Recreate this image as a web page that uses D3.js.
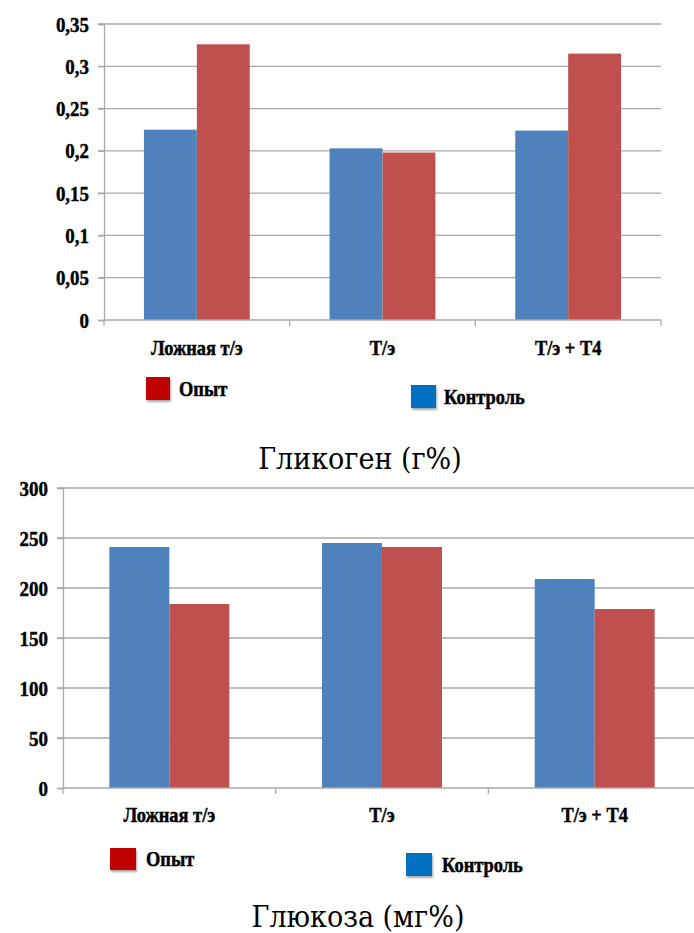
<!DOCTYPE html>
<html><head><meta charset="utf-8">
<script src="https://cdn.jsdelivr.net/npm/d3@7"></script>
<style>
html,body{margin:0;padding:0;background:#fff;}
svg{display:block;}
text.ttl{font-family:"DejaVu Serif Condensed","DejaVu Serif",serif;font-stretch:condensed;fill:#000;}
</style>
</head><body>
<svg id="c" width="694" height="933"></svg>
<script>
const categories = ["Ложная т/э", "Т/э", "Т/э + Т4"];
const seriesNames = ["Контроль", "Опыт"];
const glycogenControl = [0.225, 0.203, 0.224];
const glycogenExperiment = [0.326, 0.198, 0.315];
const glucoseControl = [241, 245, 209];
const glucoseExperiment = [184, 241, 179];
const glycogenTicks = [0, 0.05, 0.1, 0.15, 0.2, 0.25, 0.3, 0.35];
const glycogenTickLabels = ["0", "0,05", "0,1", "0,15", "0,2", "0,25", "0,3", "0,35"];
const glucoseTicks = [0, 50, 100, 150, 200, 250, 300];
const glucoseTickLabels = ["0", "50", "100", "150", "200", "250", "300"];
const legendLabels = ["Опыт", "Контроль"];
const titles = ["Гликоген (г%)", "Глюкоза (мг%)"];

const barColors = {"Контроль": "#4F81BD", "Опыт": "#C0504D"};
const legendColors = {"Опыт": "#C00000", "Контроль": "#0070C0"};
const LBL_FONT = "'Liberation Serif', 'Times New Roman', serif";

const svg = d3.select("#c");
svg.append("rect").attr("width", 694).attr("height", 933).attr("fill", "#fff");

const defs = svg.append("defs");
const f = defs.append("filter").attr("id", "sh").attr("x", "-30%").attr("y", "-30%").attr("width", "160%").attr("height", "160%");
f.append("feDropShadow").attr("dx", 1).attr("dy", 2).attr("stdDeviation", 1.2).attr("flood-color", "#000").attr("flood-opacity", 0.35);

function lbl(sel, size, k) {
  sel.style("font-family", LBL_FONT).style("font-weight", "700").style("font-size", size + "px")
    .style("fill", "#000").style("stroke", "#000").style("stroke-width", "0.45px");
  sel.each(function() {
    const w = this.getComputedTextLength();
    if (w > 0) d3.select(this).attr("textLength", w * k).attr("lengthAdjust", "spacingAndGlyphs");
  });
}

function drawChart(cfg) {
  const g = svg.append("g");
  const x = d3.scaleBand().domain(categories).range([cfg.x0, cfg.x1]).padding(0);
  const xs = d3.scaleBand().domain(seriesNames)
    .range([x.bandwidth() * cfg.gap, x.bandwidth() * (1 - cfg.gap)]).padding(0);
  const y = d3.scaleLinear().domain([0, cfg.max]).range([cfg.y0, cfg.yTop]);

  g.selectAll("line.grid").data(cfg.ticks.filter(t => t > 0)).join("line")
    .attr("x1", cfg.x0 - 6).attr("x2", cfg.x1)
    .attr("y1", d => y(d)).attr("y2", d => y(d))
    .attr("stroke", "#a9a9a9").attr("stroke-width", 1.3);

  const data = categories.map((c, i) => ({c, vals: [
    {s: "Контроль", v: cfg.control[i]}, {s: "Опыт", v: cfg.exp[i]}]}));
  const grp = g.selectAll("g.grp").data(data).join("g")
    .attr("transform", d => `translate(${x(d.c)},0)`);
  grp.selectAll("rect").data(d => d.vals).join("rect")
    .attr("x", d => xs(d.s)).attr("width", xs.bandwidth())
    .attr("y", d => y(d.v)).attr("height", d => y(0) - y(d.v))
    .attr("fill", d => barColors[d.s]);

  const yAxis = d3.axisLeft(y).tickValues(cfg.ticks).tickSize(6)
    .tickFormat((d, i) => cfg.tickLabels[i]).tickPadding(9);
  const ya = g.append("g").attr("transform", `translate(${cfg.x0},0)`).call(yAxis)
    .attr("font-family", null).attr("font-size", null);
  ya.select(".domain").attr("stroke", "#a9a9a9").attr("stroke-width", 1.3);
  ya.selectAll(".tick line").attr("stroke", "#a9a9a9").attr("stroke-width", 1.3);
  ya.selectAll("text").call(lbl, 22, 0.86);

  g.append("line").attr("x1", cfg.x0).attr("x2", cfg.x1).attr("y1", cfg.y0).attr("y2", cfg.y0)
    .attr("stroke", "#a9a9a9").attr("stroke-width", 1.3);
  const bounds = categories.map(c => x(c)).concat([cfg.x1]);
  g.selectAll("line.ct").data(bounds).join("line")
    .attr("x1", d => d).attr("x2", d => d).attr("y1", cfg.y0).attr("y2", cfg.y0 + 6)
    .attr("stroke", "#a9a9a9").attr("stroke-width", 1.3);

  g.selectAll("text.cat").data(categories).join("text")
    .attr("x", d => x(d) + x.bandwidth() / 2).attr("y", cfg.labelY)
    .attr("text-anchor", "middle").attr("dominant-baseline", "central")
    .text(d => d).call(lbl, 20, 0.92);

  legendLabels.forEach((name, i) => {
    const L = cfg.legend[i];
    g.append("rect").attr("x", L.x).attr("y", L.y).attr("width", L.w).attr("height", L.h)
      .attr("fill", legendColors[name]).attr("filter", "url(#sh)");
    g.append("text").attr("x", L.tx).attr("y", L.y + L.h / 2)
      .attr("dominant-baseline", "central").text(name).call(lbl, 20, 0.92);
  });

  g.append("text").attr("class", "ttl").attr("x", cfg.titleX).attr("y", cfg.titleY)
    .attr("text-anchor", "middle").attr("dominant-baseline", "central")
    .style("font-size", "30px").text(cfg.title);
}

drawChart({
  x0: 104, x1: 661, y0: 320, yTop: 24, max: 0.35, gap: 0.215,
  ticks: glycogenTicks, tickLabels: glycogenTickLabels,
  control: glycogenControl, exp: glycogenExperiment,
  labelY: 348,
  legend: [{x: 146, y: 377, w: 24, h: 23, tx: 179}, {x: 411, y: 385, w: 25, h: 23, tx: 444}],
  title: titles[0], titleX: 360, titleY: 458
});

drawChart({
  x0: 63, x1: 701, y0: 788, yTop: 488, max: 300, gap: 0.218,
  ticks: glucoseTicks, tickLabels: glucoseTickLabels,
  control: glucoseControl, exp: glucoseExperiment,
  labelY: 815,
  legend: [{x: 110, y: 848, w: 26, h: 22, tx: 146}, {x: 406, y: 853, w: 26, h: 23, tx: 442}],
  title: titles[1], titleX: 358, titleY: 916
});
</script>
</body></html>
